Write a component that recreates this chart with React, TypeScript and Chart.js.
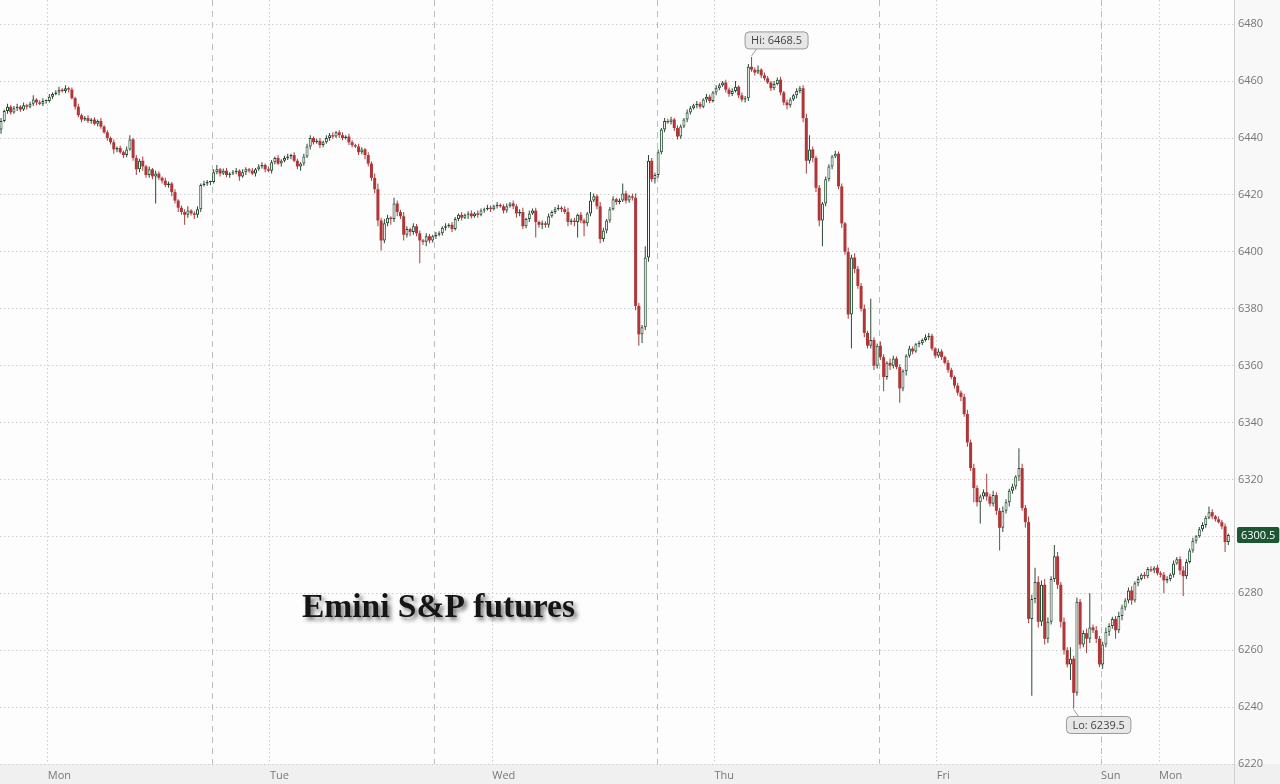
import React, { useEffect, useRef } from 'react';
import { Chart, registerables } from 'chart.js';

Chart.register(...registerables);

// 20-minute candles; slot index counts 20-min bars from the Sunday 18:00 session open
const firstSlot = 3;
const firstOpen = 6443;

const closes = [
  6446, 6449.5, 6451, 6449, 6450.5, 6451, 6450, 6451.5, 6451, 6452,
  6453.5, 6452.5, 6452, 6453, 6453, 6454.5, 6455.5, 6456, 6457, 6456.5,
  6457.5, 6457, 6454, 6451, 6448, 6446.5, 6447, 6446, 6446.5, 6445,
  6446, 6444, 6442, 6440, 6438.5, 6436, 6436.5, 6435, 6434, 6436,
  6439.5, 6433, 6429, 6432, 6430, 6427, 6429, 6426.5, 6427.5, 6426,
  6425, 6423.5, 6424, 6421, 6418, 6415.5, 6414, 6413, 6414.5, 6413.5,
  6413, 6415, 6423.5, 6424, 6424.5, 6424.5, 6428, 6429, 6427.5, 6428.5,
  6427, 6427.5, 6428, 6428.5, 6426.5, 6428, 6429, 6428.5, 6427.5, 6429,
  6430, 6430.5, 6429, 6428.5, 6431.5, 6433, 6431, 6432, 6433, 6433.5,
  6434, 6432, 6430, 6431, 6433.5, 6437, 6440, 6438.5, 6439, 6437.5,
  6438.5, 6440, 6441, 6440.5, 6442, 6441, 6440, 6440.5, 6438.5, 6437.5,
  6437, 6435, 6436, 6434, 6431, 6426, 6422, 6411, 6404, 6410,
  6412, 6411.5, 6417, 6414, 6412.5, 6406, 6408, 6407, 6409, 6406.5,
  6404, 6403.5, 6405.5, 6404, 6405.5, 6406, 6406.5, 6408.5, 6409, 6409.5,
  6408, 6411.5, 6413, 6412, 6413, 6413.5, 6412.5, 6413.5, 6413, 6414.5,
  6415, 6415.5, 6415, 6416, 6416.5, 6416, 6414.5, 6416, 6417, 6416,
  6413.5, 6414, 6409, 6411.5, 6413.5, 6414.5, 6410.5, 6409.5, 6410, 6409.5,
  6412.5, 6414, 6415, 6415.5, 6415, 6414, 6410.5, 6411, 6410.5, 6413,
  6411, 6410, 6413.5, 6418, 6419.5, 6416, 6404.5, 6407.5, 6411, 6415,
  6418.5, 6417.5, 6418, 6420.5, 6418, 6419.5, 6419, 6381, 6371, 6373.5,
  6398, 6432, 6425.5, 6427, 6435, 6443, 6446, 6445.5, 6446.5, 6443.5,
  6440.5, 6444, 6446.5, 6449, 6450.5, 6451.5, 6452, 6451, 6453.5, 6454.5,
  6453, 6456, 6457.5, 6458.5, 6459.5, 6457, 6455.5, 6456.5, 6458, 6455,
  6453.5, 6454, 6465, 6464, 6463, 6464, 6462, 6461, 6459.5, 6457.5,
  6459, 6460.5, 6456, 6452.5, 6451.5, 6453.5, 6455, 6456.5, 6457.5, 6447,
  6432, 6436, 6433, 6422.5, 6411, 6417, 6425.5, 6430, 6433.5, 6434.5,
  6423, 6410, 6400, 6378, 6398, 6394, 6388, 6380, 6371.5, 6367,
  6369, 6360, 6367, 6363, 6356, 6361, 6360, 6362.5, 6359.5, 6352,
  6358, 6363.5, 6366, 6365, 6367.5, 6368, 6369, 6370, 6370.5, 6366,
  6363.5, 6365, 6363, 6361, 6358.5, 6356, 6353, 6350.5, 6349, 6343,
  6333, 6324, 6317, 6312, 6314, 6315.5, 6314, 6311.5, 6314.5, 6309,
  6303, 6309, 6312, 6316, 6317.5, 6321, 6324, 6310, 6305, 6271,
  6278, 6284, 6270, 6283, 6264, 6270, 6285, 6293, 6283, 6270,
  6260, 6255, 6257, 6245, 6277, 6262, 6266, 6264, 6268, 6267,
  6264, 6255, 6262, 6266.5, 6268.5, 6271, 6267, 6272, 6275, 6277.5,
  6281, 6277.5, 6283.5, 6285, 6286.5, 6286, 6288.5, 6288, 6289, 6287,
  6286.5, 6284.5, 6285, 6286.5, 6290.5, 6292, 6288, 6286, 6291, 6295,
  6298.5, 6300, 6302.5, 6304, 6306.5, 6308.5, 6307, 6306, 6305, 6303.5,
  6298, 6300.5,
];

// wick length above the body
const wickUp = [
  1, 0.5, 1, 0.5, 0.75, 1, 0.5, 1, 0.5, 0.75,
  1.5, 0.5, 0.75, 1, 0.5, 1, 0.5, 0.75, 1, 0.5,
  1, 0.5, 0.75, 0.5, 1, 0.5, 0.75, 1, 0.5, 0.75,
  0.5, 1, 0.5, 0.75, 0.5, 1, 0.5, 0.75, 0.5, 1,
  1.5, 0.5, 1, 0.75, 1.5, 0.5, 1, 0.5, 1, 0.75,
  0.5, 1, 0.75, 0.5, 1, 0.5, 0.75, 1, 1.5, 0.5,
  0.75, 1, 0.5, 1, 0.75, 0.5, 1, 1.5, 0.5, 0.75,
  1, 0.5, 0.75, 1, 0.5, 1, 0.75, 0.5, 1, 0.5,
  0.75, 1, 0.5, 1, 0.75, 0.5, 1, 0.5, 0.75, 1,
  0.5, 1, 0.75, 0.5, 1, 1, 1, 0.5, 0.75, 1,
  0.5, 1, 0.75, 1, 0.5, 0.75, 1, 0.5, 1, 0.75,
  0.5, 1, 0.75, 0.5, 1, 0.75, 1.5, 2, 1, 1.5,
  1, 0.5, 2, 1, 0.75, 1.5, 1, 0.5, 1, 0.75,
  1, 0.5, 1, 0.75, 0.5, 1, 0.75, 0.5, 1, 0.5,
  1, 0.75, 0.5, 1, 0.5, 0.75, 1, 0.5, 1, 0.75,
  0.5, 1, 0.75, 0.5, 1, 0.5, 0.75, 1, 0.5, 1,
  0.75, 1, 1.5, 0.5, 1, 0.75, 1, 0.5, 1, 0.75,
  1, 0.5, 0.75, 1, 0.5, 1, 1.5, 0.75, 1, 0.5,
  1, 0.75, 0.5, 3, 1, 0.75, 1.5, 1, 0.5, 0.75,
  1, 0.5, 0.75, 3.5, 1, 0.5, 1, 1.5, 1, 0.75,
  4, 2, 1, 0.75, 1, 0.5, 1, 0.75, 1, 0.5,
  1, 0.75, 0.5, 1, 0.75, 0.5, 1, 0.75, 0.5, 1,
  0.75, 0.5, 1, 0.75, 0.5, 1, 0.75, 1, 2, 0.5,
  1, 0.75, 1, 3.5, 0.75, 1.5, 0.5, 1, 0.75, 0.5,
  1, 0.75, 1, 0.5, 1, 0.75, 0.5, 1, 0.75, 1,
  1.5, 5, 1, 0.75, 1, 0.5, 1, 0.75, 0.5, 1,
  0.75, 1, 0.5, 1.5, 1, 1.5, 1, 1, 1.5, 0.75,
  14.5, 1, 0.75, 1.5, 1, 0.5, 1.5, 1, 0.75, 1,
  0.75, 0.5, 1, 0.75, 0.5, 0.75, 0.5, 1, 1, 0.75,
  0.5, 1, 0.75, 0.5, 1, 0.75, 0.5, 1, 0.75, 1,
  1.5, 1, 1.5, 1, 0.75, 1, 6.5, 1, 1.5, 1,
  1, 1.5, 1, 0.75, 1, 0.5, 7, 1.5, 1, 2,
  1.5, 5, 2, 1.5, 2, 1.5, 1, 4, 1.5, 1,
  1.5, 1, 4, 1, 1.5, 1, 1, 1.5, 12, 1,
  1.5, 1, 1, 1.5, 1, 0.75, 1, 1.5, 1, 0.75,
  1, 1.5, 0.75, 1, 0.5, 1, 0.75, 1, 0.5, 1,
  0.75, 1, 1, 0.5, 1, 0.75, 1, 1.5, 1, 0.75,
  1, 0.5, 0.75, 1, 0.75, 2, 1, 0.5, 1, 0.75,
  1, 0.5,
];

// wick length below the body
const wickDn = [
  1.5, 0.5, 1, 0.75, 0.5, 1, 0.75, 0.5, 1, 0.5,
  0.75, 1, 0.5, 0.75, 1, 0.5, 0.75, 0.5, 1, 0.5,
  0.75, 1, 0.5, 1, 0.75, 1, 0.5, 0.75, 1, 0.5,
  1, 0.75, 0.5, 1, 0.75, 1.5, 1, 0.5, 1, 0.75,
  0.5, 1, 2, 1, 1.5, 1, 1, 1, 9.5, 0.75,
  1, 0.75, 1, 1.5, 1, 1.5, 1, 3.5, 1, 0.75,
  1.5, 1, 1, 0.5, 0.75, 1, 0.5, 0.75, 1, 0.5,
  0.75, 1, 0.5, 0.75, 1.5, 0.5, 1, 0.75, 0.5, 1,
  0.5, 0.75, 1, 0.5, 1, 0.75, 0.5, 1, 0.5, 0.75,
  1, 0.5, 1, 1.5, 0.75, 0.5, 1, 0.75, 0.5, 1,
  0.75, 0.5, 1, 0.75, 0.5, 1, 0.75, 0.5, 1, 0.75,
  0.5, 1, 0.75, 1.5, 1, 1, 1.5, 2, 3.5, 1,
  1, 2, 1, 1.5, 1, 2, 1, 1.5, 1, 1,
  8, 1, 1.5, 1, 0.75, 1, 0.5, 0.75, 1, 0.5,
  1, 0.5, 0.75, 1, 0.5, 1.5, 0.75, 0.5, 1, 0.5,
  0.75, 0.5, 1, 0.5, 0.75, 0.5, 1, 0.75, 0.5, 1,
  1.5, 1, 1, 0.75, 1, 0.5, 5.5, 1, 1.5, 1,
  1, 0.5, 0.75, 0.5, 1, 0.75, 1.5, 1, 1.5, 5.5,
  1, 4.5, 1, 1, 0.5, 1, 1.5, 1, 1, 0.75,
  0.5, 1, 0.75, 0.5, 1, 0.75, 1, 1.5, 4, 3,
  1, 1.5, 1, 1.5, 1, 0.75, 1, 0.5, 0.75, 1,
  1, 0.75, 0.5, 1, 0.75, 0.5, 1, 0.75, 0.5, 1,
  0.75, 0.5, 1, 0.75, 0.5, 1, 1, 0.75, 0.5, 1,
  0.75, 1, 1, 0.75, 1, 0.5, 1, 0.75, 0.5, 1,
  0.75, 0.5, 1, 1, 1.5, 0.75, 0.5, 1, 0.75, 1.5,
  4.5, 1, 1.5, 1.5, 2, 9, 1, 0.75, 1, 0.5,
  1, 1.5, 1, 1.5, 12, 1.5, 1, 1, 1.5, 1,
  1, 1.5, 1, 1, 5, 1, 1.5, 1, 0.75, 5,
  1, 1.5, 0.75, 1, 0.5, 1, 0.75, 0.5, 1, 0.75,
  1, 0.75, 1, 0.5, 1, 0.75, 1, 1, 1.5, 1,
  1.5, 1, 5, 1.5, 7.5, 1, 1.5, 1, 1, 1.5,
  8, 1.5, 1, 1.5, 1, 1, 1.5, 1, 2, 1.5,
  27, 1.5, 2, 1.5, 2, 1.5, 1, 1, 1.5, 2,
  1.5, 1, 5.5, 5.5, 1, 1.5, 1, 5, 1.5, 1,
  1.5, 1, 1.5, 1, 1.5, 1, 3, 1, 1.5, 1,
  1, 1.5, 0.75, 1, 0.5, 1, 0.75, 0.5, 1, 0.75,
  1, 4.5, 1, 0.75, 1, 0.5, 1.5, 7, 1, 0.5,
  0.75, 1, 0.5, 0.75, 1, 0.5, 1, 0.75, 0.5, 1,
  3.5, 1,
];

const yMin = 6220;
const yMax = 6488.5;
const yStep = 20;
const xMin = 3.18;
const xMax = 386.27;
const xTickSlots = [18, 87, 156, 225, 294, 345, 363];
const xTickLabels = ['Mon', 'Tue', 'Wed', 'Thu', 'Fri', 'Sun', 'Mon'];
const sessionBreakSlots = [69, 138, 207, 276, 345];
const titleText = 'Emini S&P futures';

const UP_BORDER = '#1d4a2c';
const UP_FILL = '#ffffff';
const DOWN_FILL = '#b03638';
const UP_WICK = '#2c4a36';
const DOWN_WICK = '#a43c3c';
const GRID = '#cdcdcd';
const LABEL = '#777777';

function roundRect(ctx: CanvasRenderingContext2D, x: number, y: number, w: number, h: number, r: number) {
  ctx.beginPath();
  ctx.moveTo(x + r, y);
  ctx.lineTo(x + w - r, y);
  ctx.arcTo(x + w, y, x + w, y + r, r);
  ctx.lineTo(x + w, y + h - r);
  ctx.arcTo(x + w, y + h, x + w - r, y + h, r);
  ctx.lineTo(x + r, y + h);
  ctx.arcTo(x, y + h, x, y + h - r, r);
  ctx.lineTo(x, y + r);
  ctx.arcTo(x, y, x + r, y, r);
  ctx.closePath();
}

export default function App() {
  const ref = useRef<HTMLCanvasElement>(null);

  useEffect(() => {
    document.body.style.margin = '0';
    const canvas = ref.current;
    if (!canvas) return;

    const opens = closes.map((c, i) => (i === 0 ? firstOpen : closes[i - 1]));
    const highs = closes.map((c, i) => Math.max(opens[i], c) + wickUp[i]);
    const lows = closes.map((c, i) => Math.min(opens[i], c) - wickDn[i]);
    const xs = closes.map((_, i) => firstSlot + i + 0.5);
    const up = closes.map((c, i) => c >= opens[i]);

    let hiIdx = 0;
    let loIdx = 0;
    highs.forEach((h, i) => { if (h > highs[hiIdx]) hiIdx = i; });
    lows.forEach((l, i) => { if (l < lows[loIdx]) loIdx = i; });

    const fontFamily = '"Open Sans", "DejaVu Sans", sans-serif';

    const backgroundPlugin = {
      id: 'bg',
      beforeDraw(chart: any) {
        const { ctx, chartArea: a, width, height } = chart;
        ctx.save();
        ctx.fillStyle = '#f8f8f8';
        ctx.fillRect(0, 0, width, height);
        ctx.fillStyle = '#fdfdfd';
        ctx.fillRect(a.left, a.top, a.right - a.left, a.bottom - a.top);
        ctx.fillStyle = '#f0f0f0';
        ctx.fillRect(0, a.bottom, width, height - a.bottom);
        ctx.restore();
      },
      beforeDatasetsDraw(chart: any) {
        const { ctx, chartArea: a, scales } = chart;
        ctx.save();
        ctx.strokeStyle = '#bdbdbd';
        ctx.lineWidth = 1;
        ctx.setLineDash([6, 5]);
        sessionBreakSlots.forEach((s) => {
          const x = Math.round(scales.x.getPixelForValue(s)) + 0.5;
          ctx.beginPath();
          ctx.moveTo(x, a.top);
          ctx.lineTo(x, a.bottom);
          ctx.stroke();
        });
        ctx.restore();
      },
      afterDatasetsDraw(chart: any) {
        const { ctx, chartArea: a, scales, height } = chart;
        const xs_ = scales.x;
        const ys_ = scales.y;
        ctx.save();

        // right axis line
        ctx.strokeStyle = '#cfcfcf';
        ctx.lineWidth = 1;
        ctx.beginPath();
        ctx.moveTo(a.right + 0.5, 0);
        ctx.lineTo(a.right + 0.5, height);
        ctx.stroke();

        ctx.font = `11px ${fontFamily}`;
        ctx.textBaseline = 'middle';
        ctx.textAlign = 'center';

        // Hi label
        const hx = xs_.getPixelForValue(xs[hiIdx]);
        const hy = ys_.getPixelForValue(highs[hiIdx]);
        const hiText = `Hi: ${highs[hiIdx].toFixed(1)}`;
        const hw = ctx.measureText(hiText).width + 12;
        const hh = 17;
        const hcx = hx + 25;
        const hBottom = hy - 8;
        ctx.strokeStyle = '#9a9a9a';
        ctx.beginPath();
        ctx.moveTo(hx, hy - 1);
        ctx.lineTo(hx + 5, hBottom);
        ctx.stroke();
        roundRect(ctx, hcx - hw / 2, hBottom - hh, hw, hh, 4);
        ctx.fillStyle = '#e7e7e7';
        ctx.fill();
        ctx.stroke();
        ctx.fillStyle = '#444';
        ctx.fillText(hiText, hcx, hBottom - hh / 2 + 0.5);

        // Lo label
        const lx = xs_.getPixelForValue(xs[loIdx]);
        const ly = ys_.getPixelForValue(lows[loIdx]);
        const loText = `Lo: ${lows[loIdx].toFixed(1)}`;
        const lw = ctx.measureText(loText).width + 12;
        const lTop = ly + 8;
        ctx.strokeStyle = '#9a9a9a';
        ctx.beginPath();
        ctx.moveTo(lx, ly + 1);
        ctx.lineTo(lx + 5, lTop);
        ctx.stroke();
        roundRect(ctx, lx + 25 - lw / 2, lTop, lw, hh, 4);
        ctx.fillStyle = '#e7e7e7';
        ctx.fill();
        ctx.stroke();
        ctx.fillStyle = '#444';
        ctx.fillText(loText, lx + 25, lTop + hh / 2 + 0.5);

        // last price label
        const last = closes[closes.length - 1];
        const py = ys_.getPixelForValue(last);
        const pText = last.toFixed(1);
        const pw = ctx.measureText(pText).width + 8;
        roundRect(ctx, a.right + 3, py - 8, pw, 16, 2);
        ctx.fillStyle = '#1d5632';
        ctx.fill();
        ctx.fillStyle = '#ffffff';
        ctx.textAlign = 'left';
        ctx.fillText(pText, a.right + 7, py + 0.5);

        // title
        ctx.font = 'bold 33.5px "Liberation Serif", "DejaVu Serif", serif';
        ctx.textBaseline = 'alphabetic';
        ctx.textAlign = 'left';
        ctx.shadowColor = 'rgba(0,0,0,0.55)';
        ctx.shadowOffsetX = 3;
        ctx.shadowOffsetY = 3;
        ctx.shadowBlur = 4;
        ctx.fillStyle = '#151515';
        ctx.fillText(titleText, a.left + 302, a.top + 617);
        ctx.restore();
      },
    };

    const chart = new Chart(canvas, {
      type: 'bar',
      data: {
        datasets: [
          {
            label: 'body',
            data: xs.map((x, i) => ({ x, y: [opens[i], closes[i]] })) as any,
            backgroundColor: up.map((u) => (u ? UP_FILL : DOWN_FILL)),
            borderColor: up.map((u) => (u ? UP_BORDER : DOWN_FILL)),
            borderWidth: up.map((u) => (u ? 1 : 0)),
            borderSkipped: false,
            barThickness: 3,
            minBarLength: 1,
            grouped: false,
            inflateAmount: 0,
            order: 1,
          } as any,
          {
            label: 'wick',
            data: xs.map((x, i) => ({ x, y: [lows[i], highs[i]] })) as any,
            backgroundColor: up.map((u) => (u ? UP_WICK : DOWN_WICK)),
            borderWidth: 0,
            barThickness: 1,
            grouped: false,
            inflateAmount: 0,
            order: 2,
          } as any,
        ],
      },
      options: {
        responsive: false,
        animation: false,
        events: [],
        layout: { padding: 0 },
        plugins: {
          legend: { display: false },
          tooltip: { enabled: false },
        },
        scales: {
          x: {
            type: 'linear',
            min: xMin,
            max: xMax,
            offset: false,
            grid: { display: true, color: GRID, drawTicks: false, offset: false },
            border: { display: false, dash: [1.5, 2.5] },
            ticks: {
              autoSkip: false,
              maxRotation: 0,
              minRotation: 0,
              align: 'start',
              padding: 5,
              color: LABEL,
              font: { size: 11, family: fontFamily },
              callback: (_v: any, i: number) => xTickLabels[i] ?? '',
            },
            afterBuildTicks: (s: any) => {
              s.ticks = xTickSlots.map((v) => ({ value: v }));
            },
            afterFit: (s: any) => {
              s.height = 20;
              s.paddingLeft = 0;
              s.paddingRight = 0;
            },
          } as any,
          y: {
            type: 'linear',
            position: 'right',
            min: yMin,
            max: yMax,
            grid: { color: GRID, drawTicks: false },
            border: { display: false, dash: [1.5, 2.5] },
            ticks: {
              stepSize: yStep,
              padding: 4,
              color: LABEL,
              font: { size: 11, family: fontFamily },
              callback: (v: any) => String(v),
            },
            afterBuildTicks: (s: any) => {
              s.ticks = s.ticks.filter((t: any) => t.value % yStep === 0);
            },
            afterFit: (s: any) => {
              s.width = 46;
              s.paddingTop = 0;
              s.paddingBottom = 0;
            },
          } as any,
        },
      },
      plugins: [backgroundPlugin],
    });

    return () => chart.destroy();
  }, []);

  return <canvas ref={ref} width={1280} height={784} style={{ display: 'block' }} />;
}
